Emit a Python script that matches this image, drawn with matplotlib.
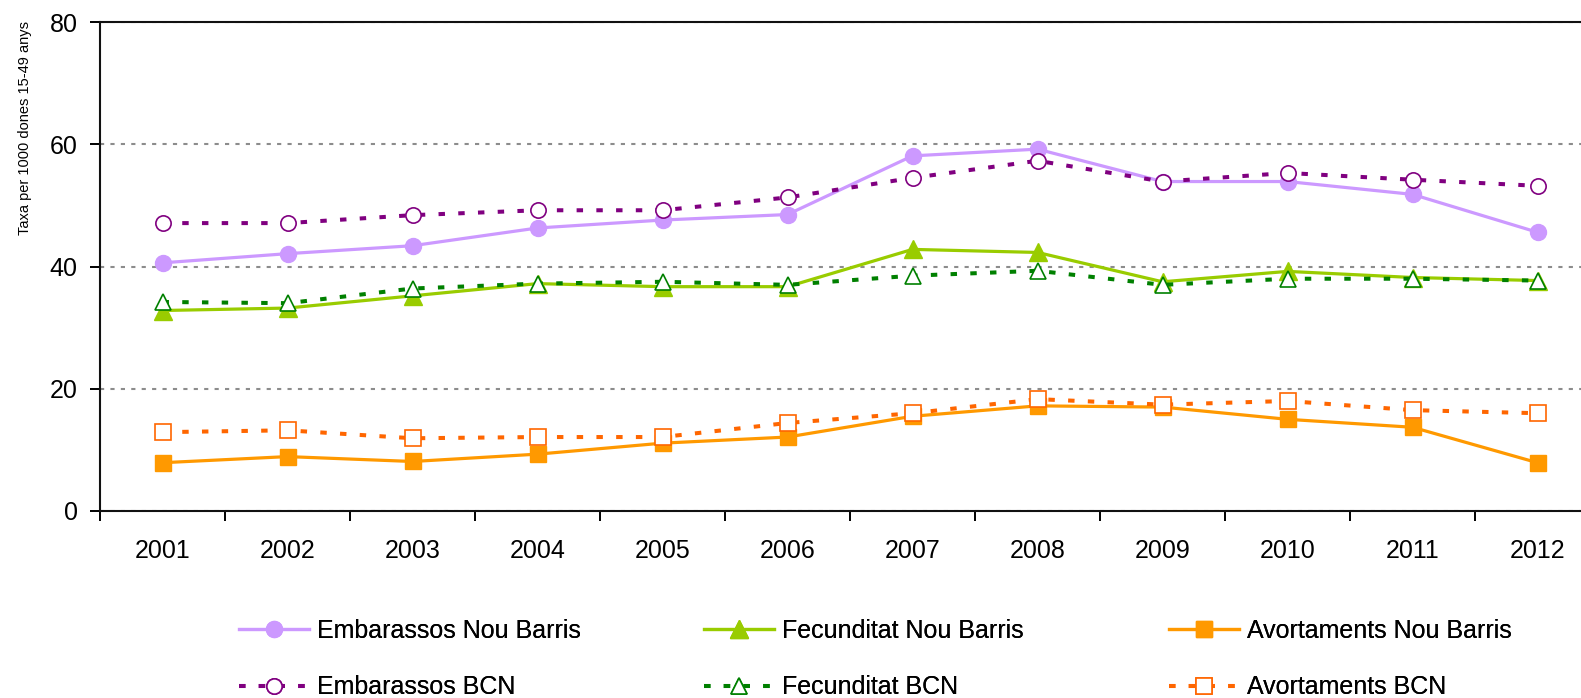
import matplotlib.pyplot as plt
from matplotlib.ticker import FixedLocator

plt.rcParams['font.family'] = ['Liberation Sans', 'DejaVu Sans']

anys = ['2001', '2002', '2003', '2004', '2005', '2006',
        '2007', '2008', '2009', '2010', '2011', '2012']

emb_nb = [40.6, 42.1, 43.4, 46.3, 47.6, 48.5, 58.1, 59.2, 53.9, 53.9, 51.8, 45.6]
emb_bcn = [47.1, 47.1, 48.4, 49.2, 49.2, 51.3, 54.5, 57.3, 53.9, 55.3, 54.2, 53.2]
fec_nb = [32.8, 33.2, 35.2, 37.2, 36.7, 36.7, 42.8, 42.3, 37.5, 39.2, 38.2, 37.7]
fec_bcn = [34.2, 34.0, 36.4, 37.2, 37.5, 37.0, 38.5, 39.3, 37.0, 38.0, 38.0, 37.7]
avo_nb = [7.9, 8.9, 8.1, 9.3, 11.1, 12.1, 15.5, 17.2, 17.0, 15.0, 13.7, 7.9]
avo_bcn = [12.9, 13.2, 11.9, 12.1, 12.1, 14.4, 16.0, 18.3, 17.4, 18.0, 16.5, 16.0]

W, H = 1581, 698
fig = plt.figure(figsize=(W / 100, H / 100), dpi=100)
# plot area: left spine x=100, bottom y=511, top y=22, runs past right edge
ax = fig.add_axes([100 / W, (H - 511) / H, (1600 - 100) / W, (511 - 22) / H])

x = list(range(len(anys)))
dots = (0, (1.6, 3.3))

l1, = ax.plot(x, emb_nb, color='#CC99FF', lw=2.3, marker='o', ms=11.5,
              mfc='#CC99FF', mec='#CC99FF', label='Embarassos Nou Barris', zorder=3)
l2, = ax.plot(x, fec_nb, color='#99CC00', lw=2.3, marker='^', ms=12.5,
              mfc='#99CC00', mec='#99CC00', label='Fecunditat Nou Barris', zorder=3)
l3, = ax.plot(x, avo_nb, color='#FF9900', lw=2.3, marker='s', ms=11,
              mfc='#FF9900', mec='#FF9900', label='Avortaments Nou Barris', zorder=3)
l4, = ax.plot(x, emb_bcn, color='#800080', lw=2.9, ls=dots, marker='o', ms=11,
              mfc='white', mec='#800080', mew=1.2, label='Embarassos BCN',
              dash_capstyle='butt', zorder=4)
l5, = ax.plot(x, fec_bcn, color='#008000', lw=2.9, ls=dots, marker='^', ms=12,
              mfc='white', mec='#008000', mew=1.2, label='Fecunditat BCN',
              dash_capstyle='butt', zorder=4)
l6, = ax.plot(x, avo_bcn, color='#FF6600', lw=2.9, ls=dots, marker='s', ms=11,
              mfc='white', mec='#FF6600', mew=1.2, label='Avortaments BCN',
              dash_capstyle='butt', zorder=4)

ax.set_xlim(-0.5, len(anys) - 0.5)
ax.set_ylim(0, 80)
ax.set_yticks([0, 20, 40, 60, 80])
ax.yaxis.grid(True, color='#8c8c8c', lw=1.5, ls=(0, (2, 3)))
ax.set_axisbelow(True)

ax.set_xticks(x)
ax.set_xticklabels(anys)
ax.xaxis.set_minor_locator(FixedLocator([i - 0.5 for i in range(len(anys) + 1)]))
ax.tick_params(axis='x', which='major', length=0, pad=20, labelsize=18)
ax.tick_params(axis='x', which='minor', length=7, width=1.4, direction='out')
ax.tick_params(axis='y', length=7, width=1.4, pad=9, labelsize=18)

for s in ['left', 'bottom', 'top']:
    ax.spines[s].set_linewidth(1.5)
    ax.spines[s].set_color('#111111')
ax.spines['right'].set_visible(False)

fig.text(25 / W, 1 - 128 / H, 'Taxa per 1000 dones 15-49 anys', fontsize=10.5,
         rotation=90, ha='center', va='center')

cols = [(239, [l1, l4]), (704, [l2, l5]), (1169, [l3, l6])]
for px, hs in cols:
    leg = fig.legend(handles=hs, loc='upper left',
                     bbox_to_anchor=(px / W, 1 - 619 / H),
                     frameon=False, fontsize=18, handlelength=2.8,
                     handletextpad=0.32, labelspacing=1.3, borderpad=0,
                     borderaxespad=0)
    fig.add_artist(leg)

fig.savefig('out.png', dpi=100)
